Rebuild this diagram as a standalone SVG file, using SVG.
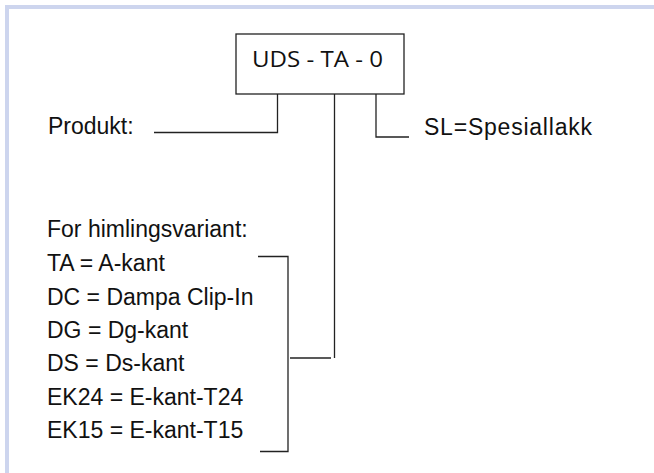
<svg xmlns="http://www.w3.org/2000/svg" width="654" height="473" viewBox="0 0 654 473">
<style>
.lbl{font-family:"Liberation Sans",Arial,sans-serif;font-size:23px;fill:#111}
.box{fill:#fff;stroke:#222;stroke-width:1.3}
.conn{fill:none;stroke:#222;stroke-width:1.3}
.frame{fill:#cdd5ee}
</style>
<rect width="654" height="473" fill="#fff"/>
<g id="frame">
<rect class="frame" x="5" y="5" width="649" height="4"/>
<rect class="frame" x="5" y="5" width="4" height="468"/>
</g>
<g id="connectors">
<path class="conn" d="M154,132.5 H277.5 V94"/>
<path class="conn" d="M334.5,94 V358"/>
<path class="conn" d="M290,358 H331"/>
<path class="conn" d="M376,94 V137 H409"/>
<path class="conn" d="M258,256.5 H288 V451.5 H260"/>
</g>
<g id="node-code">
<rect class="box" x="236" y="34" width="168" height="60"/>
<text x="252" y="67" font-family="'Open Sans',Lato,sans-serif" font-size="21" fill="#111" textLength="131" lengthAdjust="spacingAndGlyphs">UDS - TA - 0</text>
</g>
<g id="node-produkt">
<text class="lbl" x="48" y="134">Produkt:</text>
</g>
<g id="node-sl">
<text class="lbl" x="424" y="134.5" textLength="168">SL=Spesiallakk</text>
</g>
<g id="node-variants">
<text class="lbl" x="47" y="237">For himlingsvariant:</text>
<text class="lbl" x="47" y="271">TA = A-kant</text>
<text class="lbl" x="47" y="304.5">DC = Dampa Clip-In</text>
<text class="lbl" x="47" y="338">DG = Dg-kant</text>
<text class="lbl" x="47" y="371">DS = Ds-kant</text>
<text class="lbl" x="47" y="404.5">EK24 = E-kant-T24</text>
<text class="lbl" x="47" y="438">EK15 = E-kant-T15</text>
</g>
</svg>
